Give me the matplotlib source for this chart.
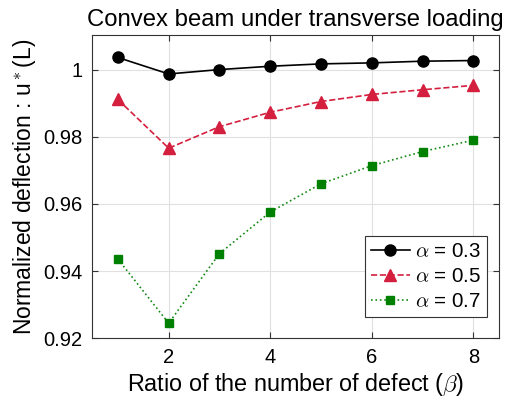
import matplotlib
matplotlib.use("Agg")
import matplotlib.pyplot as plt

beta = [1, 2, 3, 4, 5, 6, 7, 8]
u_a03 = [1.0036, 0.9987, 1.0000, 1.0010, 1.0017, 1.0020, 1.0025, 1.0027]
u_a05 = [0.9911, 0.9766, 0.9830, 0.9873, 0.9905, 0.9926, 0.9940, 0.9953]
u_a07 = [0.9436, 0.9245, 0.9452, 0.9576, 0.9660, 0.9714, 0.9756, 0.9790]
labels = [r"$\alpha$ = 0.3", r"$\alpha$ = 0.5", r"$\alpha$ = 0.7"]
xticks = [2, 4, 6, 8]
yticks = [0.92, 0.94, 0.96, 0.98, 1.0]
yticklabels = ["0.92", "0.94", "0.96", "0.98", "1"]

plt.rcParams['font.family'] = ['Liberation Sans', 'DejaVu Sans']
plt.rcParams['mathtext.fontset'] = 'cm'

fig = plt.figure(figsize=(5.11, 4.03), dpi=100)
ax = fig.add_axes([0.181, 0.1605, 0.795, 0.7535])

ax.plot(beta, u_a03, '-', color='black', marker='o', markersize=8, lw=1.2, label=labels[0])
ax.plot(beta, u_a05, '--', color='#d41f3e', marker='^', markersize=8.5, lw=1.2, label=labels[1])
ax.plot(beta, u_a07, ':', color='#168a16', marker='s', markersize=6, lw=1.2,
        markerfacecolor='#008000', markeredgecolor='#008000', label=labels[2])

ax.set_xlim(0.5, 8.5)
ax.set_ylim(0.92, 1.0104)
ax.set_xticks(xticks)
ax.set_yticks(yticks)
ax.set_yticklabels(yticklabels)
ax.tick_params(direction='in', length=4, labelsize=14.5, top=True, right=True, color='#333333', pad=7)
ax.grid(True, color='#e0e0e0', lw=0.8)
ax.set_axisbelow(True)
for s in ax.spines.values():
    s.set_color('#333333')
    s.set_linewidth(0.8)

ax.set_title("Convex beam under transverse loading", fontsize=17.2, pad=6)
ax.set_xlabel(r"Ratio of the number of defect ($\beta$)", fontsize=16.8, labelpad=3)
ax.set_ylabel(r"Normalized deflection : u$^*$(L)", fontsize=16.5, labelpad=4)

leg = ax.legend(loc='lower right', fontsize=14.8, fancybox=False, framealpha=1,
                edgecolor='#333333', borderpad=0.28, labelspacing=0.3, handlelength=1.9,
                handletextpad=0.25, borderaxespad=0, bbox_to_anchor=(0.971, 0.07))
leg.get_frame().set_linewidth(0.8)

fig.savefig("out.png", dpi=100)
